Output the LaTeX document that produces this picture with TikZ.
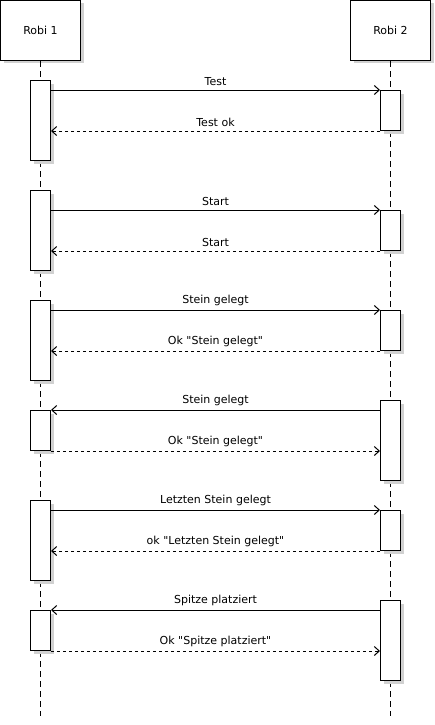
\documentclass[tikz,border=0pt]{standalone}
\usepackage{fontspec}
\setmainfont{DejaVu Sans}[Ligatures=TeXOff]
\usetikzlibrary{arrows.meta,shadows}
\begin{document}
\begin{tikzpicture}[x=1pt,y=-1pt,
  shad/.style={drop shadow={shadow xshift=3pt,shadow yshift=-3pt,fill=black!18,opacity=1}},
  head/.style={draw,line width=1pt,fill=white,minimum width=80pt,minimum height=60pt,inner sep=0pt,shad,font=\fontsize{11}{13}\selectfont},
  act/.style={draw,line width=1pt,fill=white,minimum width=20pt,inner sep=0pt,shad},
  life/.style={line width=1pt,dash pattern=on 6pt off 4pt},
  msg/.style={line width=1pt,-{Straight Barb[length=5pt,width=9pt,line width=1pt]}},
  ret/.style={msg,dash pattern=on 3pt off 3pt},
  lbl/.style={font=\fontsize{11}{13}\selectfont,inner sep=0pt,above=4pt}]
\useasboundingbox (0,0) rectangle (435,725);
\begin{scope}[shift={(0.5,0.5)}]
% headers
\node[head] (h1) at (40,30) {Robi 1};
\node[head] (h2) at (390,30) {Robi 2};
\coordinate (e1) at (40,715);
\coordinate (e2) at (390,715);
\draw[life] (h1.south) -- (e1);
\draw[life] (h2.south) -- (e2);
% activations Robi 1
\node[act,minimum height=80pt] (a1) at (40,120) {};
\node[act,minimum height=80pt] (a2) at (40,230) {};
\node[act,minimum height=80pt] (a3) at (40,340) {};
\node[act,minimum height=40pt] (a4) at (40,430) {};
\node[act,minimum height=80pt] (a5) at (40,540) {};
\node[act,minimum height=40pt] (a6) at (40,630) {};
% activations Robi 2
\node[act,minimum height=40pt] (b1) at (390,110) {};
\node[act,minimum height=40pt] (b2) at (390,230) {};
\node[act,minimum height=40pt] (b3) at (390,330) {};
\node[act,minimum height=80pt] (b4) at (390,440) {};
\node[act,minimum height=40pt] (b5) at (390,530) {};
\node[act,minimum height=80pt] (b6) at (390,640) {};
% block 1
\draw[msg] (b1.north west -| a1.east) -- node[lbl]{Test} (b1.north west);
\draw[ret] (b1.south west) -- node[lbl]{Test ok} (b1.south west -| a1.east);
% block 2
\draw[msg] (b2.north west -| a2.east) -- node[lbl]{Start} (b2.north west);
\draw[ret] (b2.south west) -- node[lbl]{Start} (b2.south west -| a2.east);
% block 3
\draw[msg] (b3.north west -| a3.east) -- node[lbl]{Stein gelegt} (b3.north west);
\draw[ret] (b3.south west) -- node[lbl]{Ok "Stein gelegt"} (b3.south west -| a3.east);
% block 4
\draw[msg] (a4.north east -| b4.west) -- node[lbl]{Stein gelegt} (a4.north east);
\draw[ret] (a4.south east) -- node[lbl]{Ok "Stein gelegt"} (a4.south east -| b4.west);
% block 5
\draw[msg] (b5.north west -| a5.east) -- node[lbl]{Letzten Stein gelegt} (b5.north west);
\draw[ret] (b5.south west) -- node[lbl]{ok "Letzten Stein gelegt"} (b5.south west -| a5.east);
% block 6
\draw[msg] (a6.north east -| b6.west) -- node[lbl]{Spitze platziert} (a6.north east);
\draw[ret] (a6.south east) -- node[lbl]{Ok "Spitze platziert"} (a6.south east -| b6.west);
\end{scope}
\end{tikzpicture}
\end{document}
